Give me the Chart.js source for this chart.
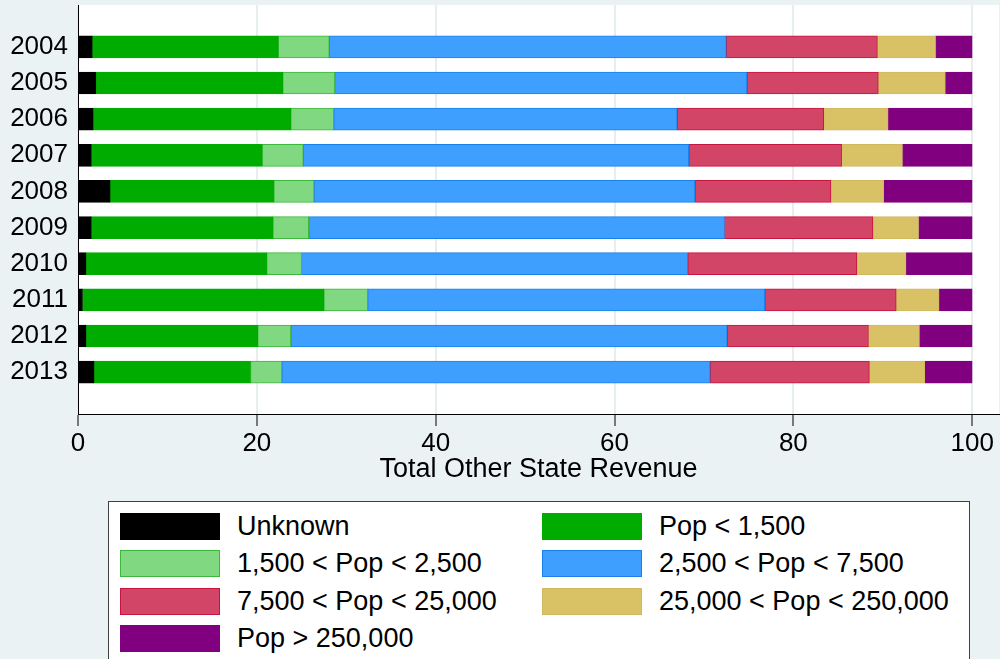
<!DOCTYPE html>
<html lang="en">
<head>
  <meta charset="UTF-8">
  <title>Total Other State Revenue</title>
  <script src="https://cdn.jsdelivr.net/npm/chart.js"></script>
  <style>
    html, body {
      margin: 0;
      padding: 0;
      width: 1000px;
      height: 659px;
      overflow: hidden;
      background: #eaf2f3;
      font-family: "Liberation Sans", Arial, sans-serif;
    }
    #wrap {
      position: relative;
      width: 1000px;
      height: 659px;
    }
    canvas {
      position: absolute;
      left: 0;
      top: 0;
    }
    #legend {
      position: absolute;
      left: 108px;
      top: 501px;
      width: 862px;
      height: 200px;
      background: #fff;
      border: 1px solid #404040;
      box-sizing: border-box;
    }
    .item {
      position: absolute;
      height: 27px;
      font-size: 27px;
      color: #000;
    }
    .swatch {
      position: absolute;
      left: 0;
      top: 0;
      width: 100px;
      height: 27px;
      box-sizing: border-box;
      border: 1px solid;
    }
    .label {
      position: absolute;
      left: 117px;
      top: -1px;
      line-height: 29px;
      white-space: nowrap;
    }
  </style>
</head>
<body>
  <div id="wrap">
    <canvas id="chart" width="1000" height="490"></canvas>
    <div id="legend"></div>
  </div>

  <script>
    const years = [2004, 2005, 2006, 2007, 2008, 2009, 2010, 2011, 2012, 2013];
    const xTicks = [0, 20, 40, 60, 80, 100];

    const seriesNames = [
      'Unknown',
      'Pop < 1,500',
      '1,500 < Pop < 2,500',
      '2,500 < Pop < 7,500',
      '7,500 < Pop < 25,000',
      '25,000 < Pop < 250,000',
      'Pop > 250,000'
    ];

    // share of revenue (%) per year, one array per size class
    const unknown   = [1.6, 2.0, 1.7, 1.5, 3.6, 1.5, 0.9, 0.5, 0.9, 1.8];
    const popLt1500 = [20.8, 20.9, 22.1, 19.1, 18.3, 20.3, 20.2, 27.0, 19.2, 17.5];
    const pop1500   = [5.7, 5.8, 4.8, 4.6, 4.5, 4.0, 3.9, 4.9, 3.7, 3.5];
    const pop2500   = [44.4, 46.1, 38.4, 43.1, 42.6, 46.5, 43.2, 44.4, 48.8, 47.9];
    const pop7500   = [16.9, 14.7, 16.4, 17.1, 15.2, 16.6, 18.9, 14.7, 15.8, 17.8];
    const pop25000  = [6.5, 7.5, 7.2, 6.8, 5.9, 5.1, 5.5, 4.8, 5.7, 6.2];
    const popGt250k = [4.1, 3.0, 9.4, 7.8, 9.9, 6.0, 7.4, 3.7, 5.9, 5.3];

    const seriesValues = [unknown, popLt1500, pop1500, pop2500, pop7500, pop25000, popGt250k];
    const fillColors = ['#000000', '#00ac00', '#80d880', '#3f9fff', '#d24566', '#d9c266', '#800080'];
    const lineColors = ['#000000', '#00ac00', '#3cb83c', '#1a80ee', '#c8153e', '#d0b860', '#800080'];

    const font = { family: '"Liberation Sans", Arial, sans-serif', size: 26 };

    const datasets = seriesNames.map((name, i) => ({
      label: name,
      data: seriesValues[i].map((v, j) => ({ x: v, y: years[j] })),
      backgroundColor: fillColors[i],
      borderColor: lineColors[i],
      borderWidth: 1,
      borderSkipped: false,
      barThickness: 22
    }));

    const plotBackground = {
      id: 'plotBackground',
      beforeDraw(chart) {
        const a = chart.chartArea;
        const ctx = chart.ctx;
        ctx.save();
        ctx.fillStyle = '#ffffff';
        ctx.fillRect(a.left, a.top, a.right - a.left, a.bottom - a.top);
        ctx.restore();
      }
    };

    new Chart(document.getElementById('chart'), {
      type: 'bar',
      data: { datasets: datasets },
      plugins: [plotBackground],
      options: {
        responsive: false,
        animation: false,
        indexAxis: 'y',
        layout: { padding: { top: 5, right: 1, left: 0, bottom: 0 } },
        plugins: {
          legend: { display: false },
          tooltip: { enabled: false }
        },
        scales: {
          x: {
            type: 'linear',
            stacked: true,
            min: 0,
            max: 103,
            afterBuildTicks: (scale) => { scale.ticks = xTicks.map(v => ({ value: v })); },
            afterFit: (scale) => {
              scale.height = 76;
              scale.paddingLeft = 0;
              scale.paddingRight = 0;
            },
            ticks: { font: font, color: '#000', padding: 2, maxRotation: 0 },
            grid: {
              color: '#e6eef0',
              lineWidth: 2,
              tickColor: '#000',
              tickWidth: 1,
              tickLength: 12
            },
            border: { display: true, color: '#000', width: 1 },
            title: {
              display: true,
              text: 'Total Other State Revenue',
              font: { family: font.family, size: 27, lineHeight: 1 },
              color: '#000',
              padding: { top: 0, bottom: 7 }
            }
          },
          y: {
            type: 'linear',
            stacked: true,
            reverse: true,
            offset: false,
            min: 2002.84,
            max: 2014.16,
            afterBuildTicks: (scale) => { scale.ticks = years.map(v => ({ value: v })); },
            afterFit: (scale) => {
              scale.width = 78;
              scale.paddingTop = 0;
              scale.paddingBottom = 0;
            },
            ticks: { font: font, color: '#000', padding: 10, callback: (v) => String(v) },
            grid: { display: false, drawTicks: false, offset: false },
            border: { display: true, color: '#000', width: 1 }
          }
        }
      }
    });

    // legend: two columns, row-major like the original
    const legend = document.getElementById('legend');
    seriesNames.forEach((name, i) => {
      const col = i % 2;
      const row = Math.floor(i / 2);
      const item = document.createElement('div');
      item.className = 'item';
      item.style.left = (11 + col * 422) + 'px';
      item.style.top = (11 + row * 37.3) + 'px';
      const sw = document.createElement('div');
      sw.className = 'swatch';
      sw.style.background = fillColors[i];
      sw.style.borderColor = lineColors[i];
      const lb = document.createElement('div');
      lb.className = 'label';
      lb.textContent = name;
      item.appendChild(sw);
      item.appendChild(lb);
      legend.appendChild(item);
    });
  </script>
</body>
</html>
